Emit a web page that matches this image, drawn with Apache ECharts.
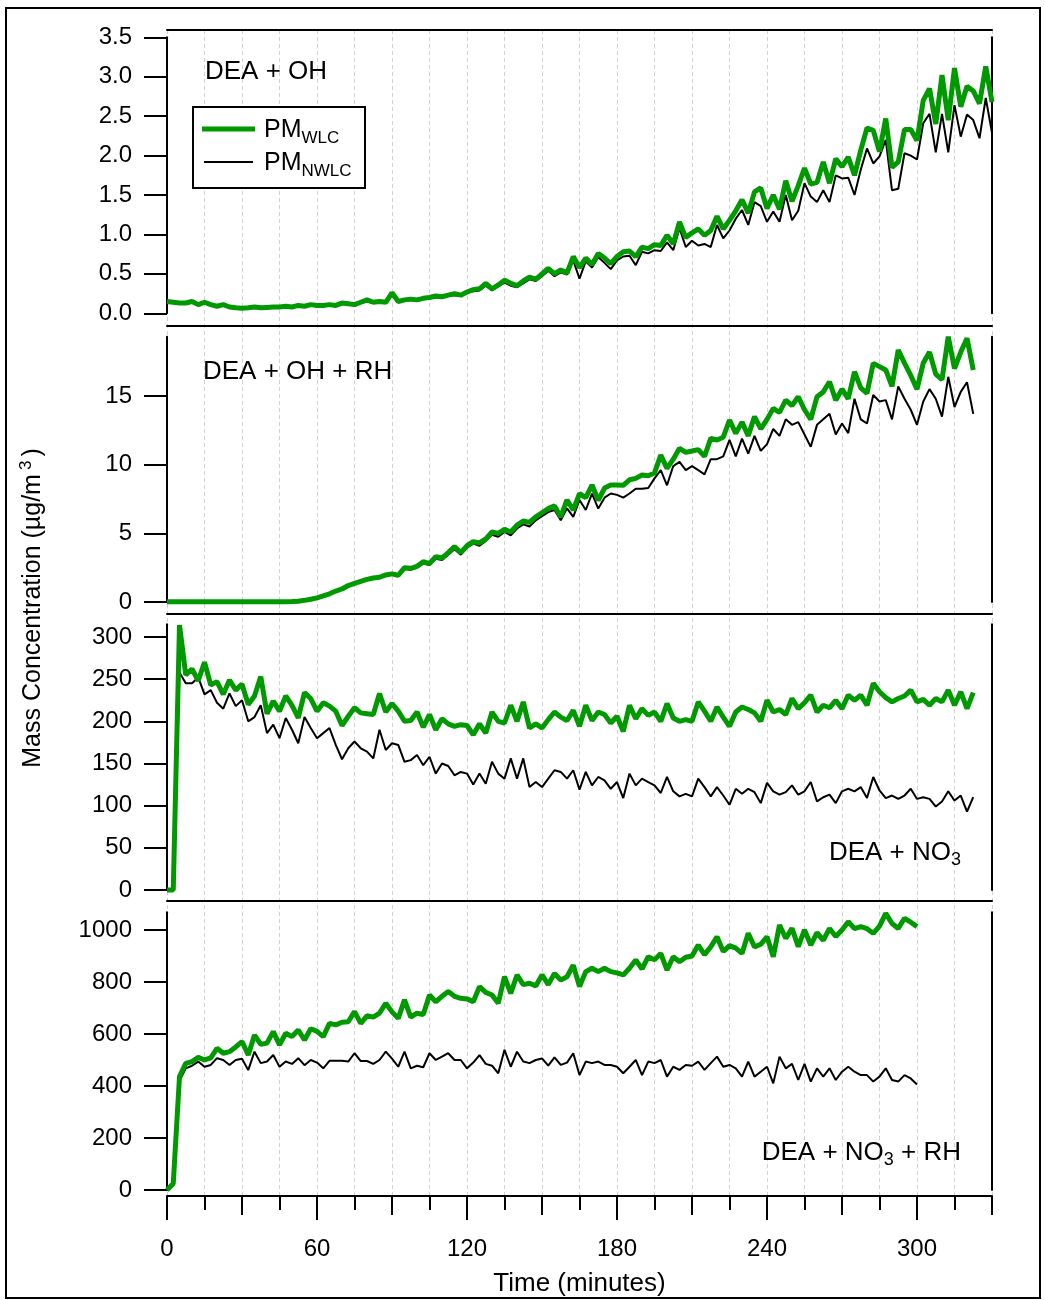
<!DOCTYPE html>
<html>
<head>
<meta charset="utf-8">
<script src="https://cdn.jsdelivr.net/npm/echarts@6/dist/echarts.min.js"></script>
<style>
  html, body { margin: 0; padding: 0; background: #fff; }
  #chart { width: 1045px; height: 1300px; }
</style>
</head>
<body>
<div id="chart"></div>
<script>
// Sampling times (minutes) shared by all four experiments
const minutes = [
  0, 2.5, 5, 7.5, 10, 12.5, 15, 17.5, 20, 22.5, 25, 27.5,
  30, 32.5, 35, 37.5, 40, 42.5, 45, 47.5, 50, 52.5, 55, 57.5,
  60, 62.5, 65, 67.5, 70, 72.5, 75, 77.5, 80, 82.5, 85, 87.5,
  90, 92.5, 95, 97.5, 100, 102.5, 105, 107.5, 110, 112.5, 115, 117.5,
  120, 122.5, 125, 127.5, 130, 132.5, 135, 137.5, 140, 142.5, 145, 147.5,
  150, 152.5, 155, 157.5, 160, 162.5, 165, 167.5, 170, 172.5, 175, 177.5,
  180, 182.5, 185, 187.5, 190, 192.5, 195, 197.5, 200, 202.5, 205, 207.5,
  210, 212.5, 215, 217.5, 220, 222.5, 225, 227.5, 230, 232.5, 235, 237.5,
  240, 242.5, 245, 247.5, 250, 252.5, 255, 257.5, 260, 262.5, 265, 267.5,
  270, 272.5, 275, 277.5, 280, 282.5, 285, 287.5, 290, 292.5, 295, 297.5,
  300, 302.5, 305, 307.5, 310, 312.5, 315, 317.5, 320, 322.5, 325, 327.5,
  330
];

// DEA + OH (µg/m3)
const wlcOH = [
  0.15, 0.14, 0.13, 0.13, 0.15, 0.11, 0.14, 0.11, 0.09, 0.11, 0.08, 0.07,
  0.065, 0.07, 0.08, 0.07, 0.075, 0.08, 0.08, 0.09, 0.08, 0.10, 0.09, 0.11,
  0.10, 0.10, 0.11, 0.10, 0.13, 0.12, 0.11, 0.14, 0.17, 0.14, 0.15, 0.14,
  0.26, 0.15, 0.17, 0.18, 0.17, 0.19, 0.20, 0.22, 0.21, 0.23, 0.25, 0.23,
  0.27, 0.30, 0.31, 0.38, 0.31, 0.36, 0.42, 0.38, 0.35, 0.41, 0.46, 0.43,
  0.50, 0.57, 0.50, 0.55, 0.51, 0.72, 0.58, 0.70, 0.62, 0.76, 0.70, 0.63,
  0.72, 0.78, 0.79, 0.72, 0.84, 0.82, 0.87, 0.86, 0.99, 0.88, 1.16, 0.96,
  1.02, 1.07, 0.99, 1.05, 1.23, 1.07, 1.18, 1.30, 1.44, 1.27, 1.54, 1.59,
  1.33, 1.50, 1.32, 1.68, 1.42, 1.62, 1.84, 1.64, 1.66, 1.92, 1.65, 1.96,
  1.86, 1.98, 1.75, 2.07, 2.35, 2.32, 2.05, 2.47, 1.85, 1.92, 2.33, 2.33,
  2.19, 2.70, 2.85, 2.40, 3.02, 2.45, 3.11, 2.62, 2.88, 2.82, 2.66, 3.13,
  2.68
];
const nwlcOH = [
  0.14, 0.13, 0.12, 0.12, 0.14, 0.10, 0.13, 0.10, 0.08, 0.10, 0.07, 0.06,
  0.055, 0.06, 0.07, 0.06, 0.065, 0.07, 0.07, 0.08, 0.07, 0.09, 0.08, 0.10,
  0.09, 0.09, 0.10, 0.09, 0.12, 0.11, 0.10, 0.13, 0.15, 0.13, 0.14, 0.13,
  0.23, 0.14, 0.16, 0.17, 0.16, 0.18, 0.19, 0.20, 0.20, 0.22, 0.23, 0.22,
  0.26, 0.28, 0.29, 0.35, 0.29, 0.34, 0.39, 0.35, 0.33, 0.38, 0.43, 0.41,
  0.47, 0.54, 0.47, 0.52, 0.49, 0.67, 0.44, 0.66, 0.58, 0.71, 0.64, 0.56,
  0.67, 0.72, 0.73, 0.61, 0.78, 0.76, 0.80, 0.79, 0.90, 0.80, 1.08, 0.84,
  0.92, 0.86, 0.88, 0.84, 1.12, 0.95, 1.05, 1.20, 1.31, 1.12, 1.41, 1.36,
  1.16, 1.29, 1.16, 1.50, 1.18, 1.30, 1.65, 1.48, 1.41, 1.56, 1.41, 1.75,
  1.71, 1.72, 1.50, 1.82, 2.09, 1.90, 1.99, 2.20, 1.56, 1.58, 2.03, 2.00,
  1.95, 2.41, 2.53, 2.04, 2.53, 2.04, 2.64, 2.24, 2.52, 2.45, 2.22, 2.73,
  2.29
];

// DEA + OH + RH (µg/m3)
const wlcOHRH = [
  0.02, 0.02, 0.01, 0.02, 0.01, 0.02, 0.02, 0.01, 0.02, 0.01, 0.02, 0.01,
  0.02, 0.01, 0.02, 0.01, 0.02, 0.01, 0.02, 0.02, 0.03, 0.06, 0.12, 0.2,
  0.3, 0.45, 0.6, 0.8, 0.95, 1.2, 1.35, 1.5, 1.65, 1.75, 1.8, 1.97,
  2.05, 1.95, 2.5, 2.45, 2.6, 2.93, 2.8, 3.3, 3.2, 3.6, 4.03, 3.6,
  4.1, 4.4, 4.3, 4.6, 5.1, 5.0, 5.3, 5.1, 5.6, 5.9, 5.8, 6.2,
  6.5, 6.8, 7.0, 6.2, 7.43, 6.7, 7.89, 7.6, 8.52, 7.4, 8.3, 8.52,
  8.52, 8.5, 8.9, 9.0, 9.25, 9.2, 9.4, 10.7, 9.73, 10.4, 11.19, 10.9,
  11.0, 11.1, 10.6, 11.92, 11.8, 12.0, 13.25, 12.28, 13.1, 12.1, 13.5, 12.6,
  13.3, 14.1, 13.8, 14.71, 14.3, 14.95, 14.0, 13.3, 14.95, 15.3, 16.04, 14.7,
  15.5, 14.8, 16.77, 15.6, 15.2, 17.38, 17.14, 16.9, 15.7, 18.35, 17.4, 16.5,
  15.5, 17.4, 18.2, 16.6, 16.2, 19.32, 17.0, 18.2, 19.2, 16.9
];
const nwlcOHRH = [
  0.01, 0.01, 0.0, 0.01, 0.0, 0.01, 0.01, 0.0, 0.01, 0.0, 0.01, 0.0,
  0.01, 0.0, 0.01, 0.0, 0.01, 0.0, 0.01, 0.01, 0.02, 0.05, 0.1, 0.18,
  0.28, 0.42, 0.57, 0.76, 0.92, 1.15, 1.3, 1.45, 1.6, 1.7, 1.75, 1.9,
  2.0, 1.88, 2.4, 2.35, 2.5, 2.8, 2.7, 3.15, 3.05, 3.45, 3.85, 3.45,
  3.95, 4.25, 4.1, 4.45, 4.9, 4.75, 5.1, 4.85, 5.35, 5.65, 5.5, 5.95,
  6.25, 6.55, 6.7, 5.95, 6.82, 6.2, 7.43, 6.7, 7.89, 6.8, 7.6, 7.9,
  7.8, 7.6, 7.9, 8.25, 8.25, 8.3, 9.0, 9.6, 8.5, 9.9, 10.2, 9.6,
  9.9, 9.6, 9.3, 10.4, 10.4, 10.6, 11.8, 10.6, 11.9, 10.8, 12.1, 11.0,
  11.5, 12.6, 12.1, 13.3, 12.9, 13.1, 12.2, 11.3, 12.9, 13.3, 13.7, 12.2,
  13.0, 12.3, 14.8, 13.3, 13.0, 15.07, 14.6, 14.7, 13.3, 15.7, 14.8, 14.0,
  12.9, 14.6, 15.5, 14.8, 13.5, 16.4, 14.2, 15.3, 16.0, 13.7
];

// DEA + NO3 (µg/m3)
const wlcNO3 = [
  0, 0, 314, 255, 262, 248, 270, 243, 247, 232, 249, 237,
  244, 220, 230, 253, 209, 224, 212, 230, 219, 204, 234, 227,
  212, 222, 218, 212, 195, 206, 216, 210, 209, 208, 233, 211,
  221, 212, 200, 201, 211, 193, 208, 190, 203, 197, 194, 196,
  195, 184, 197, 186, 211, 200, 198, 219, 200, 223, 192, 197,
  192, 202, 211, 205, 201, 213, 194, 219, 201, 211, 208, 198,
  206, 188, 219, 203, 215, 207, 211, 200, 221, 204, 200, 202,
  200, 223, 212, 200, 217, 205, 194, 211, 217, 214, 210, 200,
  225, 211, 214, 208, 227, 215, 222, 231, 211, 219, 216, 225,
  215, 231, 225, 231, 219, 245, 235, 228, 223, 227, 230, 237,
  223, 226, 219, 227, 223, 237, 219, 235, 215, 234
];
const nwlcNO3 = [
  0, 0, 258, 245, 245, 252, 232, 237, 222, 215, 233, 218,
  225, 200, 205, 219, 186, 196, 180, 204, 190, 174, 205, 192,
  180, 186, 192, 172, 155, 168, 176, 168, 164, 156, 190, 166,
  174, 172, 152, 154, 160, 148, 158, 138, 150, 147, 136, 140,
  138, 125, 138, 126, 152, 138, 132, 156, 132, 156, 122, 128,
  122, 132, 142, 140, 132, 142, 119, 140, 124, 134, 130, 120,
  128, 109, 138, 124, 132, 128, 124, 115, 134, 117, 111, 114,
  111, 132, 122, 111, 122, 112, 101, 120, 114, 120, 116, 103,
  127, 117, 113, 116, 124, 113, 117, 128, 105, 110, 113, 103,
  117, 120, 117, 122, 109, 134, 118, 109, 112, 108, 112, 120,
  108, 110, 108, 99, 105, 117, 106, 112, 93, 110
];

// DEA + NO3 + RH (µg/m3)
const wlcNO3RH = [
  0, 25, 436, 487, 494, 510, 500, 508, 545, 526, 532, 550,
  571, 519, 596, 560, 565, 609, 558, 603, 590, 615, 577, 620,
  610, 590, 641, 635, 645, 647, 686, 641, 670, 665, 680, 718,
  685, 660, 731, 665, 680, 675, 750, 724, 745, 763, 745, 737,
  735, 724, 782, 760, 750, 718, 821, 756, 827, 790, 795, 785,
  827, 790, 833, 808, 820, 865, 782, 840, 853, 840, 853, 840,
  835, 827, 853, 885, 850, 897, 885, 910, 846, 897, 878, 895,
  900, 942, 905, 935, 974, 917, 940, 930, 910, 987, 935, 945,
  974, 897, 1019, 968, 1006, 936, 1000, 942, 990, 960, 1006, 975,
  1000, 1032, 1005, 1013, 1005, 987, 1015, 1064, 1025, 1006, 1045, 1030,
  1013
];
const nwlcNO3RH = [
  0, 25, 420, 468, 478, 494, 474, 481, 507, 500, 481, 500,
  505, 461, 532, 488, 494, 519, 474, 494, 485, 507, 480, 500,
  490, 468, 497, 497, 497, 494, 526, 496, 496, 485, 500, 532,
  505, 474, 532, 468, 478, 472, 526, 500, 513, 526, 500, 500,
  468, 490, 519, 485, 478, 449, 539, 474, 532, 494, 488, 500,
  506, 478, 510, 481, 490, 526, 442, 494, 488, 494, 481, 481,
  474, 449, 474, 500, 442, 494, 488, 500, 436, 474, 462, 481,
  478, 494, 462, 488, 513, 474, 481, 468, 436, 494, 436, 455,
  474, 410, 513, 468, 485, 423, 485, 417, 468, 436, 468, 423,
  455, 474, 455, 442, 442, 417, 436, 468, 423, 417, 442, 429,
  406
];

// Tick labels
const ticksOH = [0, 0.5, 1.0, 1.5, 2.0, 2.5, 3.0, 3.5];
const ticksOHRH = [0, 5, 10, 15];
const ticksNO3 = [0, 50, 100, 150, 200, 250, 300];
const ticksNO3RH = [0, 200, 400, 600, 800, 1000];
const timeMajor = [0, 60, 120, 180, 240, 300];
const timeMid = [30, 90, 150, 210, 270, 330];
const timeMinor = [15, 45, 75, 105, 135, 165, 195, 225, 255, 285, 315];

const FONT = '"Liberation Sans", Arial, Helvetica, sans-serif';
const GREEN = '#009a00';
const X_MAX = 330;

// Four stacked panels; top/bottom are the pixel extents of each value axis
const panels = [
  { wlc: wlcOH, nwlc: nwlcOH, ticks: ticksOH, max: 3.5, digits: 1, top: 37.3, bottom: 313.3, lineGap: 7.3 },
  { wlc: wlcOHRH, nwlc: nwlcOHRH, ticks: ticksOHRH, max: 19.32, digits: 0, top: 336.7, bottom: 602, lineGap: 11.4 },
  { wlc: wlcNO3, nwlc: nwlcNO3, ticks: ticksNO3, max: 315, digits: 0, top: 624.3, bottom: 890, lineGap: 11 },
  { wlc: wlcNO3RH, nwlc: nwlcNO3RH, ticks: ticksNO3RH, max: 1068, digits: 0, top: 912.3, bottom: 1190, lineGap: 11.3 }
];

const blackLine = { color: '#000', width: 2 };

const grid = [{ left: 167, right: 53, top: 30, height: 1166, containLabel: false, outerBoundsMode: 'none' }];
panels.forEach(p => grid.push({ left: 167, right: 53, top: p.top, height: p.bottom - p.top, containLabel: false, outerBoundsMode: 'none' }));

// Dashed vertical guides every 15 minutes across all panels
const xAxis = [{
  gridIndex: 0, type: 'value', min: 0, max: X_MAX, interval: 15,
  axisLine: { show: false }, axisTick: { show: false }, axisLabel: { show: false },
  splitLine: { show: true, lineStyle: { color: '#d2d2d2', width: 1, type: [4, 3] } }
}];
// Frame line above each panel (also carries the panel's series)
panels.forEach((p, i) => xAxis.push({
  gridIndex: i + 1, type: 'value', min: 0, max: X_MAX, position: 'top', offset: p.lineGap,
  axisLine: { show: true, onZero: false, lineStyle: blackLine },
  axisTick: { show: false }, axisLabel: { show: false }, splitLine: { show: false }
}));
// Shared time axis under the last panel: long, medium and short ticks
xAxis.push({
  gridIndex: 4, type: 'value', min: 0, max: X_MAX, position: 'bottom', offset: 6,
  axisLine: { show: true, onZero: false, lineStyle: blackLine },
  axisTick: { show: true, inside: false, length: 24, lineStyle: blackLine, customValues: timeMajor },
  axisLabel: { show: true, customValues: timeMajor, fontSize: 24, fontFamily: FONT, color: '#000', margin: 41 },
  splitLine: { show: false },
  name: 'Time (minutes)', nameLocation: 'middle', nameGap: 75,
  nameTextStyle: { fontSize: 26, fontFamily: FONT, color: '#000' }
});
xAxis.push({
  gridIndex: 4, type: 'value', min: 0, max: X_MAX, position: 'bottom', offset: 6,
  axisLine: { show: false, onZero: false },
  axisTick: { show: true, length: 19, lineStyle: blackLine, customValues: timeMid },
  axisLabel: { show: false }, splitLine: { show: false }
});
xAxis.push({
  gridIndex: 4, type: 'value', min: 0, max: X_MAX, position: 'bottom', offset: 6,
  axisLine: { show: false, onZero: false },
  axisTick: { show: true, length: 14, lineStyle: blackLine, customValues: timeMinor },
  axisLabel: { show: false }, splitLine: { show: false }
});

const yAxis = [{ gridIndex: 0, type: 'value', min: 0, max: 1, show: false }];
panels.forEach((p, i) => {
  yAxis.push({
    gridIndex: i + 1, type: 'value', min: 0, max: p.max, position: 'left',
    axisLine: { show: true, onZero: false, lineStyle: blackLine },
    axisTick: { show: true, length: 23, lineStyle: blackLine, customValues: p.ticks },
    axisLabel: {
      show: true, customValues: p.ticks, fontSize: 24, fontFamily: FONT, color: '#000', margin: 35,
      formatter: v => Number(v).toFixed(p.digits)
    },
    splitLine: { show: false }
  });
  yAxis.push({
    gridIndex: i + 1, type: 'value', min: 0, max: p.max, position: 'right',
    axisLine: { show: true, onZero: false, lineStyle: blackLine },
    axisTick: { show: false }, axisLabel: { show: false }, splitLine: { show: false }
  });
});

const series = [];
panels.forEach((p, i) => {
  series.push({
    type: 'line', name: 'PM_NWLC', xAxisIndex: i + 1, yAxisIndex: 1 + 2 * i,
    data: p.nwlc.map((v, k) => [minutes[k], v]),
    symbol: 'none', showSymbol: false, clip: false,
    lineStyle: { color: '#000', width: 2 }, itemStyle: { color: '#000' }
  });
  series.push({
    type: 'line', name: 'PM_WLC', xAxisIndex: i + 1, yAxisIndex: 1 + 2 * i,
    data: p.wlc.map((v, k) => [minutes[k], v]),
    symbol: 'none', showSymbol: false, clip: false,
    lineStyle: { color: GREEN, width: 5 }, itemStyle: { color: GREEN }
  });
});

const subRich = {
  a: { fontSize: 26, fontFamily: FONT, color: '#000' },
  s: { fontSize: 18, fontFamily: FONT, color: '#000', padding: [14, 0, 0, 0] }
};
const keyRich = {
  m: { fontSize: 25, fontFamily: FONT, color: '#000' },
  s: { fontSize: 17, fontFamily: FONT, color: '#000', padding: [16, 0, 0, 0] }
};

const option = {
  animation: false,
  backgroundColor: '#fff',
  grid, xAxis, yAxis, series,
  graphic: [
    { type: 'rect', silent: true, z: 100, shape: { x: 6, y: 8, width: 1034, height: 1290 },
      style: { fill: 'none', stroke: '#000', lineWidth: 2 } },
    // key box
    { type: 'rect', silent: true, z: 60, shape: { x: 193, y: 107, width: 172, height: 81 },
      style: { fill: '#fff', stroke: '#000', lineWidth: 2 } },
    { type: 'line', silent: true, z: 61, shape: { x1: 202, y1: 129, x2: 255, y2: 129 },
      style: { stroke: GREEN, lineWidth: 5 } },
    { type: 'line', silent: true, z: 61, shape: { x1: 204, y1: 162, x2: 253, y2: 162 },
      style: { stroke: '#000', lineWidth: 2 } },
    { type: 'text', silent: true, z: 61, x: 264, y: 130,
      style: { text: '{m|PM}{s|WLC}', rich: keyRich, align: 'left', verticalAlign: 'middle' } },
    { type: 'text', silent: true, z: 61, x: 264, y: 163,
      style: { text: '{m|PM}{s|NWLC}', rich: keyRich, align: 'left', verticalAlign: 'middle' } },
    // panel captions
    { type: 'text', x: 205, y: 72, z: 50,
      style: { text: 'DEA + OH', font: '26px ' + FONT, fill: '#000', align: 'left', verticalAlign: 'middle' } },
    { type: 'text', x: 203, y: 372, z: 50,
      style: { text: 'DEA + OH + RH', font: '26px ' + FONT, fill: '#000', align: 'left', verticalAlign: 'middle' } },
    { type: 'text', x: 961, y: 853, z: 50,
      style: { text: '{a|DEA + NO}{s|3}', rich: subRich, align: 'right', verticalAlign: 'middle' } },
    { type: 'text', x: 961, y: 1153, z: 50,
      style: { text: '{a|DEA + NO}{s|3}{a| + RH}', rich: subRich, align: 'right', verticalAlign: 'middle' } },
    // value axis title
    { type: 'text', x: 33, y: 608, rotation: Math.PI / 2, z: 50,
      style: {
        text: '{a|Mass Concentration (µg/m}{p|3}{a|)}', align: 'center', verticalAlign: 'middle',
        rich: {
          a: { fontSize: 25, fontFamily: FONT, color: '#000' },
          p: { fontSize: 17, fontFamily: FONT, color: '#000', padding: [0, 4, 14, 4] }
        }
      } }
  ]
};

const chart = echarts.init(document.getElementById('chart'), null, { renderer: 'canvas' });
chart.setOption(option);
</script>
</body>
</html>
